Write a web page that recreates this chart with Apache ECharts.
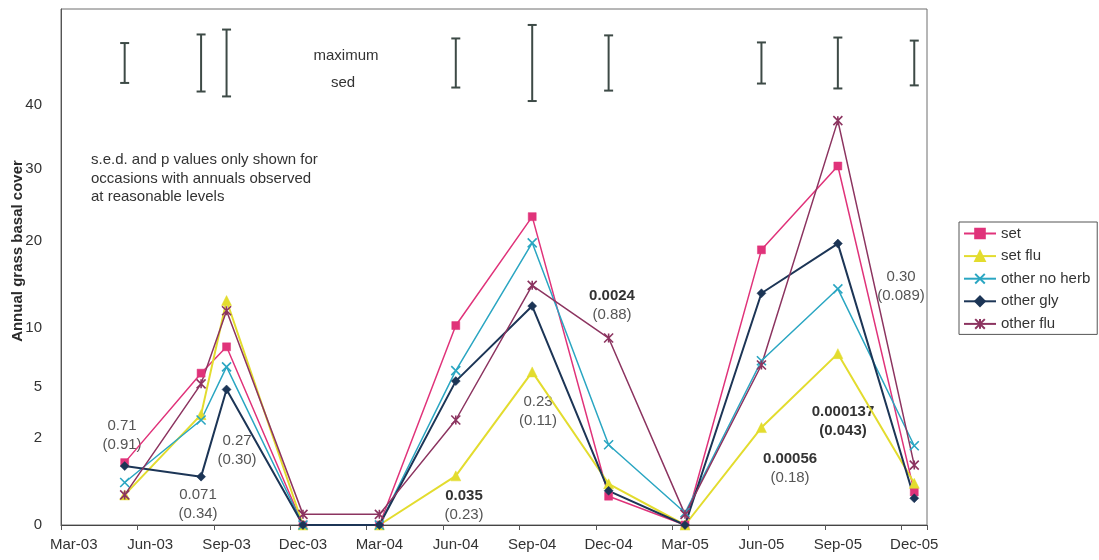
<!DOCTYPE html>
<html>
<head>
<meta charset="utf-8">
<title>Annual grass basal cover</title>
<script src="https://cdn.jsdelivr.net/npm/echarts@6/dist/echarts.min.js"></script>
<style>
  html, body { margin: 0; padding: 0; background: #ffffff; }
  #chart { width: 1099px; height: 560px; }
</style>
</head>
<body>
<div id="chart"></div>
<script>
// Monthly slots of the date axis (Mar 2003 to Dec 2005)
const months = [
  'Mar-03','Apr-03','May-03','Jun-03','Jul-03','Aug-03','Sep-03','Oct-03','Nov-03','Dec-03',
  'Jan-04','Feb-04','Mar-04','Apr-04','May-04','Jun-04','Jul-04','Aug-04','Sep-04','Oct-04','Nov-04','Dec-04',
  'Jan-05','Feb-05','Mar-05','Apr-05','May-05','Jun-05','Jul-05','Aug-05','Sep-05','Oct-05','Nov-05','Dec-05'
];

// Survey occasions
const surveyDates = ['May-03','Aug-03','Sep-03','Dec-03','Mar-04','Jun-04','Sep-04','Dec-04','Mar-05','Jun-05','Sep-05','Dec-05'];

// Annual grass basal cover (%) per treatment
const set         = [1.03, 6.0, 8.2, 0,    0,    10.2, 23.2, 0.22, 0,    18.8, 30.5, 0.29];
const setFlu      = [0.24, 3.2, 12.8, 0,   0,    0.64, 6.1,  0.45, 0,    2.5,  7.6,  0.46];
const otherNoHerb = [0.48, 2.9, 6.5, 0,    0,    6.2,  19.7, 1.7,  0.04, 7.0,  14.1, 1.66];
const otherGly    = [0.92, 0.62, 4.8, 0,   0,    5.4,  12.2, 0.31, 0,    13.6, 19.6, 0.19];
const otherFlu    = [0.24, 5.2, 11.7, 0.03, 0.03, 2.9, 14.5, 9.0,  0.03, 6.65, 37.5, 0.95];

// Labelled cover values on the vertical axis
const yTickValues = [0, 2, 5, 10, 20, 30, 40];

// Maximum s.e.d. (angular-transformed units) for each occasion with annuals present
const sedDates = ['May-03','Aug-03','Sep-03','Jun-04','Sep-04','Dec-04','Jun-05','Sep-05','Dec-05'];
const maxSed   = [0.065, 0.093, 0.109, 0.080, 0.124, 0.090, 0.067, 0.083, 0.073];
const sedBarCentre = 0.753;

// p values (with values in brackets) for the occasions
const pValueText = [
  ['0.71', '(0.91)', false],
  ['0.071', '(0.34)', false],
  ['0.27', '(0.30)', false],
  ['0.035', '(0.23)', true],
  ['0.23', '(0.11)', false],
  ['0.0024', '(0.88)', true],
  ['0.00056', '(0.18)', true],
  ['0.000137', '(0.043)', true],
  ['0.30', '(0.089)', false]
];
const pValuePos = [
  [122, 426], [198, 495], [237, 441], [464, 496], [538, 402],
  [612, 296], [790, 459], [843, 412], [901, 277]
];

// Angular (arcsine square-root) transform of a percentage
const toAxis = v => Math.asin(Math.sqrt(v / 100));
const fromAxis = t => 100 * Math.pow(Math.sin(t), 2);

const seriesDefs = [
  { name: 'set',           values: set,         color: '#e0337a', symbol: 'rect',     size: 8,  width: 1.5 },
  { name: 'set flu',       values: setFlu,      color: '#e3dc2e', symbol: 'triangle', size: 10, width: 2 },
  { name: 'other no herb', values: otherNoHerb, color: '#2aa6c2', symbol: 'path://M0,0L8,8M8,0L0,8', size: 9, width: 1.5, stroke: true },
  { name: 'other gly',     values: otherGly,    color: '#1c3556', symbol: 'diamond',  size: 9,  width: 2 },
  { name: 'other flu',     values: otherFlu,    color: '#8c3460', symbol: 'path://M0,0L8,8M8,0L0,8M4,0L4,8', size: 9, width: 1.5, stroke: true }
];

const lineSeries = seriesDefs.map(d => ({
  name: d.name,
  type: 'line',
  data: surveyDates.map((m, i) => [m, toAxis(d.values[i])]),
  symbol: d.symbol,
  symbolSize: d.size,
  showAllSymbol: true,
  connectNulls: true,
  lineStyle: { color: d.color, width: d.width },
  itemStyle: d.stroke
    ? { color: d.color, borderColor: d.color, borderWidth: 1.6 }
    : { color: d.color, borderColor: d.color, borderWidth: 0.5 },
  emphasis: { disabled: true },
  z: 3
}));

// Vertical I-bars for the maximum s.e.d.
const sedSeries = {
  type: 'custom',
  name: 'maximum sed',
  data: sedDates.map((m, i) => [m, maxSed[i]]),
  encode: { x: 0, y: 1 },
  renderItem: function (params, api) {
    const x = api.value(0);
    const len = api.value(1);
    const top = api.coord([x, sedBarCentre + len / 2]);
    const bot = api.coord([x, sedBarCentre - len / 2]);
    const cap = 4.5;
    const style = { stroke: '#3d4a46', lineWidth: 2 };
    return {
      type: 'group',
      children: [
        { type: 'line', shape: { x1: top[0], y1: top[1], x2: bot[0], y2: bot[1] }, style: style },
        { type: 'line', shape: { x1: top[0] - cap, y1: top[1], x2: top[0] + cap, y2: top[1] }, style: style },
        { type: 'line', shape: { x1: bot[0] - cap, y1: bot[1], x2: bot[0] + cap, y2: bot[1] }, style: style }
      ]
    };
  },
  silent: true,
  z: 2
};

const font = 'Liberation Sans, Arial, sans-serif';

const graphics = [
  {
    type: 'text', x: 17.5, y: 251, rotation: Math.PI / 2,
    style: { text: 'Annual grass basal cover', font: 'bold 15px ' + font, fill: '#2a2a2a', align: 'center', verticalAlign: 'middle' }
  },
  { type: 'text', x: 346, y: 56, style: { text: 'maximum', font: '15px ' + font, fill: '#333', align: 'center', verticalAlign: 'middle' } },
  { type: 'text', x: 343, y: 83, style: { text: 'sed', font: '15px ' + font, fill: '#333', align: 'center', verticalAlign: 'middle' } },
  {
    type: 'text', x: 91, y: 151,
    style: {
      text: 's.e.d. and p values only shown for\noccasions with annuals observed\nat reasonable levels',
      font: '15px ' + font, fill: '#333', lineHeight: 18.5, align: 'left', verticalAlign: 'top'
    }
  }
];
pValueText.forEach((p, i) => {
  const [x, y] = pValuePos[i];
  graphics.push({
    type: 'text', x: x, y: y,
    style: { text: p[0], font: (p[2] ? 'bold ' : '') + '15px ' + font, fill: p[2] ? '#333' : '#555', align: 'center', verticalAlign: 'middle' }
  });
  graphics.push({
    type: 'text', x: x, y: y + 19,
    style: { text: p[1], font: (p[2] && i === 7 ? 'bold ' : '') + '15px ' + font, fill: p[2] && i === 7 ? '#333' : '#555', align: 'center', verticalAlign: 'middle' }
  });
});

const chart = echarts.init(document.getElementById('chart'), null, { renderer: 'canvas' });
chart.setOption({
  animation: false,
  backgroundColor: '#ffffff',
  textStyle: { fontFamily: font },
  grid: {
    left: 61, top: 9, right: 172, bottom: 35,
    show: true, borderColor: '#6f6f6f', borderWidth: 1, backgroundColor: 'transparent'
  },
  legend: {
    orient: 'vertical',
    left: 959, top: 222,
    data: seriesDefs.map(d => d.name),
    itemWidth: 32, itemHeight: 12, itemGap: 7.6,
    padding: [4, 7, 3, 4],
    borderColor: '#555', borderWidth: 1,
    textStyle: { fontSize: 15, color: '#333', fontFamily: font, lineHeight: 15 },
    selectedMode: false
  },
  xAxis: {
    type: 'category',
    data: months,
    boundaryGap: true,
    axisLine: { lineStyle: { color: '#444', width: 1 } },
    axisTick: { show: true, interval: 2, length: 5, lineStyle: { color: '#555' } },
    axisLabel: { interval: 2, margin: 12, fontSize: 15, color: '#333', fontFamily: font },
    splitLine: { show: false }
  },
  yAxis: {
    type: 'value',
    min: 0,
    max: 0.841,
    axisLine: { show: true, lineStyle: { color: '#555', width: 1 } },
    axisTick: { show: false },
    splitLine: { show: false },
    axisLabel: {
      customValues: yTickValues.map(toAxis),
      formatter: v => String(Math.round(fromAxis(v))),
      margin: 19, fontSize: 15, color: '#333', fontFamily: font
    }
  },
  graphic: graphics,
  series: [sedSeries].concat(lineSeries)
});
</script>
</body>
</html>
